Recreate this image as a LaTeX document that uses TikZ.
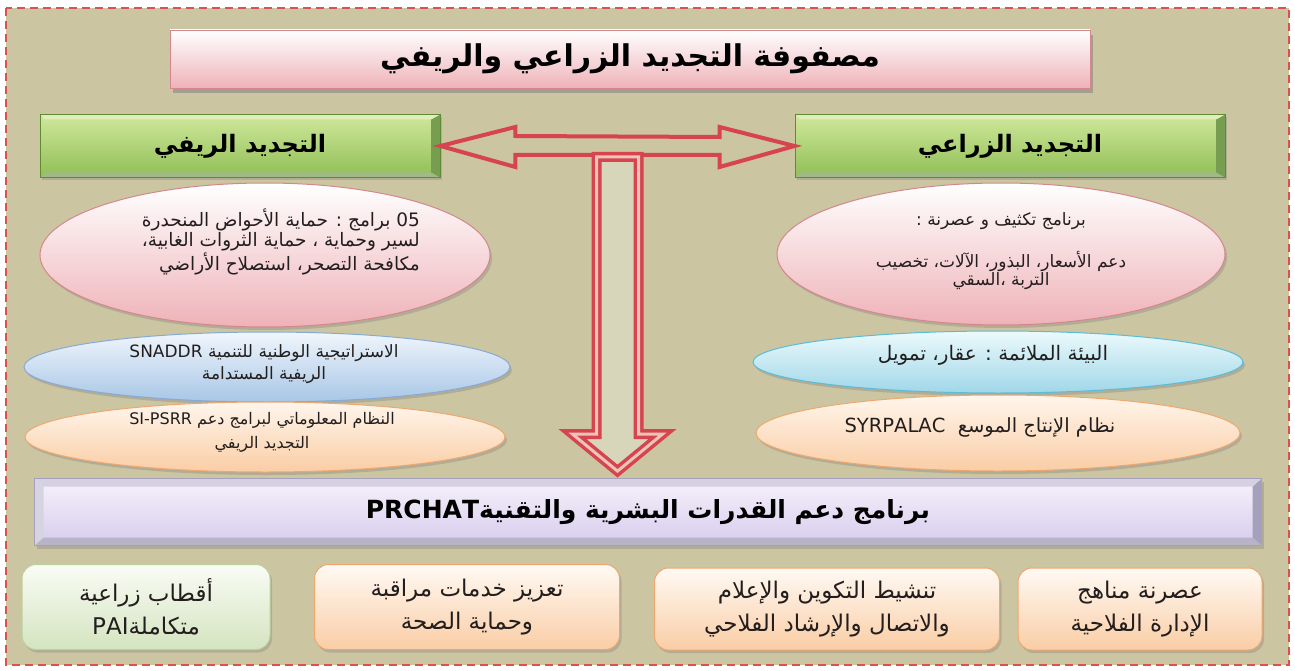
\documentclass[tikz,border=0pt]{standalone}
\usepackage{fontspec}
\newfontfamily\arabicfont[Script=Arabic]{DejaVu Sans}
\TeXXeTstate=1
\usetikzlibrary{shapes.geometric,shadows,calc}
\newcommand\RL[1]{\beginR#1\endR}
\newcommand\LR[1]{\beginL#1\endL{}}
\newcommand\fs[1]{\fontsize{#1}{20}\selectfont}
\definecolor{bgtan}{RGB}{204,197,162}
\definecolor{dashred}{RGB}{220,80,80}
\definecolor{pinkB}{RGB}{238,178,184}
\definecolor{pinkD}{RGB}{212,135,140}
\definecolor{greenL}{RGB}{208,232,155}
\definecolor{greenM}{RGB}{145,190,85}
\definecolor{greenD}{RGB}{95,140,50}
\definecolor{blueT}{RGB}{240,246,252}
\definecolor{blueB}{RGB}{168,198,230}
\definecolor{blueD}{RGB}{135,170,212}
\definecolor{cyanT}{RGB}{236,250,252}
\definecolor{cyanB}{RGB}{160,215,232}
\definecolor{cyanD}{RGB}{90,188,215}
\definecolor{orT}{RGB}{255,246,236}
\definecolor{orB}{RGB}{250,205,165}
\definecolor{orD}{RGB}{238,168,110}
\definecolor{gbT}{RGB}{250,252,245}
\definecolor{gbB}{RGB}{212,228,192}
\definecolor{gbD}{RGB}{188,208,158}
\definecolor{arrred}{RGB}{214,68,78}
\definecolor{arrpale}{RGB}{236,196,186}
\definecolor{lightfill}{RGB}{216,214,186}
\definecolor{lavT}{RGB}{246,242,252}
\definecolor{lavB}{RGB}{214,204,236}
\definecolor{lavD}{RGB}{165,160,188}
\definecolor{txt}{RGB}{35,30,30}
\tikzset{
  shad/.style={drop shadow={shadow xshift=2pt,shadow yshift=-3pt,opacity=0.35}},
  titlebox/.style={rectangle,minimum width=920pt,minimum height=58pt,top color=white,bottom color=pinkB,draw=pinkD,line width=0.6pt,
    drop shadow={shadow xshift=3pt,shadow yshift=-5pt,opacity=0.55},
    font=\arabicfont\bfseries\fontsize{30}{34}\selectfont},
  greenbox/.style={rectangle,minimum height=63pt,top color=greenL,bottom color=greenM,draw=greenD,line width=0.8pt,shad,
    font=\arabicfont\bfseries\fontsize{24}{28}\selectfont,
    path picture={
      \fill[greenD!85] (path picture bounding box.north east) -- (path picture bounding box.south east)
        -- ([xshift=-9pt,yshift=5pt]path picture bounding box.south east) -- ([xshift=-9pt,yshift=-5pt]path picture bounding box.north east) -- cycle;
      \fill[greenD!60] (path picture bounding box.south west) -- (path picture bounding box.south east)
        -- ([xshift=-9pt,yshift=5pt]path picture bounding box.south east) -- ([xshift=5pt,yshift=5pt]path picture bounding box.south west) -- cycle;
      \fill[greenL!70!white] (path picture bounding box.north west) -- (path picture bounding box.north east)
        -- ([xshift=-9pt,yshift=-5pt]path picture bounding box.north east) -- ([xshift=5pt,yshift=-5pt]path picture bounding box.north west) -- cycle;
    }},
  lavbox/.style={rectangle,minimum height=67pt,top color=lavT,bottom color=lavB,draw=lavD,line width=0.8pt,shad,
    font=\arabicfont\bfseries\fontsize{25}{28}\selectfont,
    path picture={
      \fill[lavD] (path picture bounding box.north east) -- (path picture bounding box.south east)
        -- ([xshift=-9pt,yshift=8pt]path picture bounding box.south east) -- ([xshift=-9pt,yshift=-8pt]path picture bounding box.north east) -- cycle;
      \fill[lavD!80] (path picture bounding box.south west) -- (path picture bounding box.south east)
        -- ([xshift=-9pt,yshift=8pt]path picture bounding box.south east) -- ([xshift=9pt,yshift=8pt]path picture bounding box.south west) -- cycle;
      \fill[lavD!45] (path picture bounding box.north west) -- (path picture bounding box.south west)
        -- ([xshift=9pt,yshift=8pt]path picture bounding box.south west) -- ([xshift=9pt,yshift=-8pt]path picture bounding box.north west) -- cycle;
      \fill[lavT!60!lavD] (path picture bounding box.north west) -- (path picture bounding box.north east)
        -- ([xshift=-9pt,yshift=-8pt]path picture bounding box.north east) -- ([xshift=9pt,yshift=-8pt]path picture bounding box.north west) -- cycle;
    }},
  ell/.style={ellipse,inner sep=0pt,line width=1pt,shad},
  pinkell/.style={ell,top color=white,bottom color=pinkB,draw=pinkD},
  blueell/.style={ell,top color=blueT,bottom color=blueB,draw=blueD},
  cyanell/.style={ell,top color=cyanT,bottom color=cyanB,draw=cyanD},
  orell/.style={ell,top color=orT,bottom color=orB,draw=orD},
  small/.style={font=\arabicfont,text=txt,inner sep=0pt},
  rbox/.style={rectangle,rounded corners=14pt,line width=1pt,shad,align=center,
    font=\arabicfont\fontsize{23}{33}\selectfont,text=txt},
  orbox/.style={rbox,top color=orT!60!white,bottom color=orB,draw=orD},
  grbox/.style={rbox,top color=gbT,bottom color=gbB,draw=gbD},
  harrow/.style={draw=arrred,line width=4pt,line join=miter},
  varrow/.style={draw=arrred,line width=3.5pt,double=arrpale,double distance=3pt,fill=lightfill,line join=miter},
}
\begin{document}
\begin{tikzpicture}[x=1pt,y=-1pt]
\useasboundingbox (0,0) rectangle (1295,671);
\fill[white] (0,0) rectangle (1295,671);
\fill[bgtan] (6,8) rectangle (1289,665);
\draw[dashred,line width=1.6pt,dash pattern=on 8pt off 5pt] (6,8) rectangle (1289,665);

\node[titlebox] (title) at (630,59) {\RL{مصفوفة التجديد الزراعي والريفي}};
\node[greenbox,minimum width=400pt] (rural) at (240,146) {\RL{التجديد الريفي}};
\node[greenbox,minimum width=430pt] (agri) at (1010,146) {\RL{التجديد الزراعي}};

\node[pinkell,minimum width=450pt,minimum height=144pt] (e1) at (265,255) {};
\node[pinkell,minimum width=448pt,minimum height=142pt] (e2) at (1001,254) {};
\node[blueell,minimum width=486pt,minimum height=70pt] (e3) at (267,367) {};
\node[cyanell,minimum width=490pt,minimum height=62pt] (e5) at (998,362) {};
\node[orell,minimum width=480pt,minimum height=70pt] (e4) at (265,437) {};
\node[orell,minimum width=484pt,minimum height=76pt] (e6) at (998,433) {};

\node[small,align=right,anchor=east,font=\arabicfont\fs{18.5}] (t1) at ($(e1.center)+(155,-13)$)
  {\RL{\LR{05} برامج : حماية الأحواض المنحدرة}\\ \RL{لسير وحماية ، حماية الثروات الغابية،}\\ \RL{مكافحة التصحر، استصلاح الأراضي}};
\node[small,align=center,font=\arabicfont\fs{17}] (t2) at ($(e2.center)+(0,-3)$)
  {\RL{برنامج تكثيف و عصرنة :}\\[20pt] \RL{دعم الأسعار، البذور، الآلات، تخصيب}\\[-2pt] \RL{التربة ،السقي}};
\node[small,align=center,font=\arabicfont\fs{17}] (t3) at ($(e3.center)+(-3,-3)$)
  {\RL{الاستراتيجية الوطنية للتنمية \LR{SNADDR}}\\[2pt] \RL{الريفية المستدامة}};
\node[small,align=center,font=\arabicfont\fs{16}] (t4) at ($(e4.center)+(-3,-5)$)
  {\RL{النظام المعلوماتي لبرامج دعم \LR{SI-PSRR}}\\[4pt] \RL{التجديد الريفي}};
\node[small,font=\arabicfont\fs{20}] (t5) at ($(e5.center)+(-5,-7)$) {\RL{البيئة الملائمة : عقار، تمويل}};
\node[small,font=\arabicfont\fs{19.5}] (t6) at ($(e6.center)+(-18,-6)$) {\RL{نظام الإنتاج الموسع \ \LR{SYRPALAC}}};

\node[lavbox,minimum width=1227pt] (prchat) at (648,512) {\RL{برنامج دعم القدرات البشرية والتقنية\LR{PRCHAT}}};

\coordinate (vtop) at ($($(rural.east)!0.5!(agri.west)$)+(0,9)$);
\coordinate (vtip) at (vtop |- prchat.north);

\draw[harrow] (rural.east) -- ++(75,-19) -- ++(0,9) -- ($(agri.west)+(-75,-9)$) -- ++(0,-10)
  -- (agri.west) -- ++(-75,21) -- ++(0,-12) -- ($(rural.east)+(75,9)$) -- ++(0,12) -- cycle;
\draw[varrow] ($(vtop)+(-21,2)$) -- ($(vtop)+(21,2)$) -- ($(vtip)+(21,-44)$) -- ($(vtip)+(45,-44)$)
  -- ($(vtip)+(0,-7)$) -- ($(vtip)+(-45,-44)$) -- ($(vtip)+(-21,-44)$) -- cycle;

\node[grbox,minimum width=248pt,minimum height=85pt] (b1) at (146,607) {\RL{أقطاب زراعية}\\ \RL{متكاملة\LR{PAI}}};
\node[orbox,minimum width=305pt,minimum height=85pt] (b2) at (467,607) {\RL{تعزيز خدمات مراقبة}\\ \RL{وحماية الصحة}};
\node[orbox,minimum width=345pt,minimum height=82pt] (b3) at (827,609) {\RL{تنشيط التكوين والإعلام}\\ \RL{والاتصال والإرشاد الفلاحي}};
\node[orbox,minimum width=244pt,minimum height=82pt] (b4) at (1140,609) {\RL{عصرنة مناهج}\\ \RL{الإدارة الفلاحية}};
\end{tikzpicture}
\end{document}
